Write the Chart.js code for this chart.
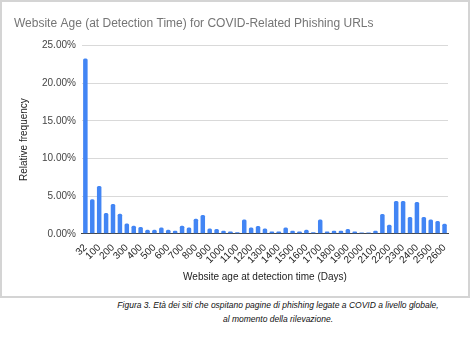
<!DOCTYPE html>
<html>
<head>
<meta charset="utf-8">
<script src="https://cdn.jsdelivr.net/npm/chart.js@4"></script>
<style>
  html, body { margin: 0; padding: 0; background: #fff; }
  #frame {
    position: absolute; left: 0; top: 0;
    width: 466px; height: 294px;
    border: 2px solid #d4d4d4;
  }
  #caption {
    position: absolute; left: 78px; top: 298px; width: 400px;
    font: italic 8.5px "Liberation Sans", Arial, sans-serif;
    color: #111; text-align: center; line-height: 14px;
    white-space: nowrap;
  }
</style>
</head>
<body>
<div id="frame"><canvas id="chart" width="466" height="294"></canvas></div>
<div id="caption">Figura 3. Età dei siti che ospitano pagine di phishing legate a COVID a livello globale,<br>al momento della rilevazione.</div>
<script>
// bins (days at detection time)
const ageBins = [
  "32", "50", "100", "150", "200", "250", "300", "350", "400", "450",
  "500", "550", "600", "650", "700", "750", "800", "850", "900", "950",
  "1000", "1050", "1100", "1150", "1200", "1250", "1300", "1350", "1400", "1450",
  "1500", "1550", "1600", "1650", "1700", "1750", "1800", "1850", "1900", "1950",
  "2000", "2050", "2100", "2150", "2200", "2250", "2300", "2350", "2400", "2450",
  "2500", "2550", "2600"
];

// relative frequency, %
const relFrequency = [
  23.26, 4.57, 6.35, 2.75, 3.95, 2.66, 1.38, 1.07, 0.89, 0.53,
  0.53, 0.84, 0.53, 0.40, 1.07, 0.84, 2.00, 2.49, 0.71, 0.62,
  0.40, 0.31, 0.22, 1.91, 0.84, 1.02, 0.71, 0.31, 0.31, 0.84,
  0.40, 0.31, 0.53, 0.22, 1.91, 0.31, 0.40, 0.40, 0.62, 0.31,
  0.18, 0.18, 0.40, 2.62, 1.20, 4.35, 4.35, 2.22, 4.22, 2.22,
  1.91, 1.69, 1.33
];

const yTicks = [0, 5, 10, 15, 20, 25];

const FONT = "Arial, 'Liberation Sans', sans-serif";

new Chart(document.getElementById("chart"), {
  type: "bar",
  data: {
    labels: ageBins,
    datasets: [{
      data: relFrequency,
      backgroundColor: "#4285F4",
      borderRadius: { topLeft: 1.5, topRight: 1.5 },
      borderSkipped: "bottom",
      barPercentage: 0.65,
      categoryPercentage: 1
    }]
  },
  options: {
    responsive: false,
    animation: false,
    layout: { padding: { left: 12, right: 20, top: 0, bottom: 9 } },
    plugins: {
      legend: { display: false },
      tooltip: { enabled: false },
      title: {
        display: true,
        text: "Website Age (at Detection Time) for COVID-Related Phishing URLs",
        align: "start",
        color: "#757575",
        font: { family: FONT, size: 12, weight: "normal" },
        padding: { top: 14, bottom: 15 }
      }
    },
    scales: {
      x: {
        grid: { display: false },
        border: { color: "#444", width: 1 },
        ticks: {
          autoSkip: false,
          maxRotation: 45,
          minRotation: 45,
          padding: 0,
          color: "#222",
          font: { family: FONT, size: 10 },
          callback(value, index) {
            return index % 2 === 0 ? ageBins[index] : "";
          }
        },
        title: {
          display: true,
          text: "Website age at detection time (Days)",
          color: "#222",
          font: { family: FONT, size: 10 },
          padding: { top: 5 }
        }
      },
      y: {
        min: 0,
        max: 25,
        afterBuildTicks(axis) {
          axis.ticks = yTicks.map(v => ({ value: v }));
        },
        grid: { color: "#d9d9d9", drawTicks: false },
        border: { display: false },
        ticks: {
          padding: 6,
          color: "#444",
          font: { family: FONT, size: 10 },
          callback: v => v.toFixed(2) + "%"
        },
        title: {
          display: true,
          text: "Relative frequency",
          color: "#222",
          font: { family: FONT, size: 10 },
          padding: { bottom: 6 }
        }
      }
    }
  }
});
</script>
</body>
</html>
